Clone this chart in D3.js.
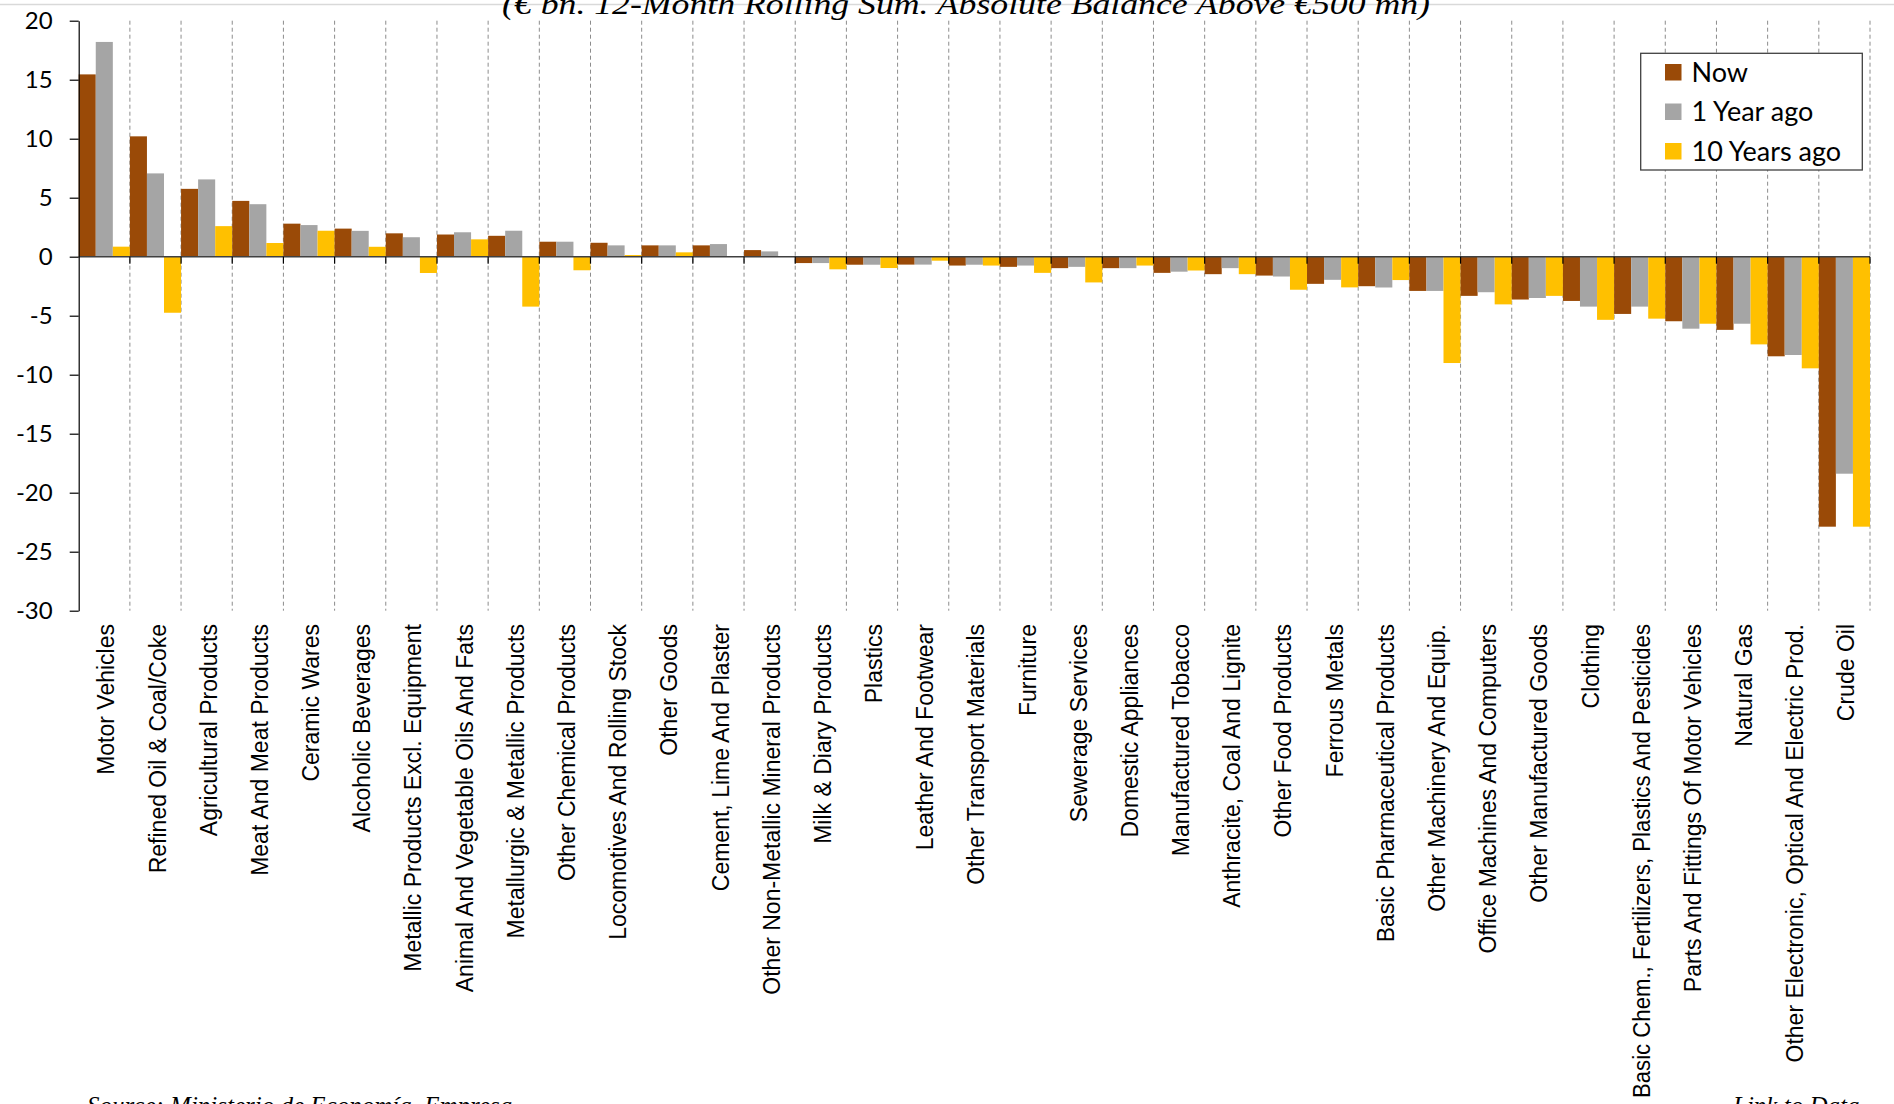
<!DOCTYPE html>
<html><head><meta charset="utf-8">
<script src="https://cdn.jsdelivr.net/npm/d3@7"></script>
<style>body{margin:0;background:#fff;} svg{display:block;}</style>
</head><body><svg id="c" width="1894" height="1104"></svg>
<script>
const categories = ["Motor Vehicles","Refined Oil & Coal/Coke","Agricultural Products","Meat And Meat Products","Ceramic Wares","Alcoholic Beverages","Metallic Products Excl. Equipment","Animal And Vegetable Oils And Fats","Metallurgic & Metallic Products","Other Chemical Products","Locomotives And Rolling Stock","Other Goods","Cement, Lime And Plaster","Other Non-Metallic Mineral Products","Milk & Diary Products","Plastics","Leather And Footwear","Other Transport Materials","Furniture","Sewerage Services","Domestic Appliances","Manufactured Tobacco","Anthracite, Coal And Lignite","Other Food Products","Ferrous Metals","Basic Pharmaceutical Products","Other Machinery And Equip.","Office Machines And Computers","Other Manufactured Goods","Clothing","Basic Chem., Fertilizers, Plastics And Pesticides","Parts And Fittings Of Motor Vehicles","Natural Gas","Other Electronic, Optical And Electric Prod.","Crude Oil"];
const nowValues = [15.45,10.2,5.75,4.73,2.8,2.38,1.98,1.88,1.77,1.27,1.18,0.96,0.96,0.56,-0.54,-0.68,-0.67,-0.75,-0.86,-0.97,-0.97,-1.37,-1.48,-1.6,-2.3,-2.5,-2.9,-3.32,-3.63,-3.75,-4.85,-5.47,-6.2,-8.44,-22.88];
const oneYearAgo = [18.2,7.06,6.55,4.45,2.68,2.19,1.65,2.07,2.2,1.27,0.96,0.96,1.07,0.45,-0.54,-0.68,-0.67,-0.68,-0.75,-0.86,-0.97,-1.27,-0.97,-1.68,-1.96,-2.61,-2.9,-3.01,-3.5,-4.23,-4.23,-6.1,-5.68,-8.33,-18.39];
const tenYearsAgo = [0.85,-4.75,2.59,1.16,2.2,0.84,-1.38,1.47,-4.23,-1.15,0.14,0.37,0,0,-1.07,-0.96,-0.34,-0.75,-1.37,-2.18,-0.75,-1.17,-1.48,-2.8,-2.6,-1.98,-9.01,-4.04,-3.32,-5.35,-5.25,-5.68,-7.43,-9.46,-22.88];
const seriesNames = ["Now","1 Year ago","10 Years ago"];
const seriesColors = ["#9A4A07","#A5A5A5","#FFC000"];
const yTicks = [20,15,10,5,0,-5,-10,-15,-20,-25,-30];
const titleText = "(€ bn. 12-Month Rolling Sum. Absolute Balance Above €500 mn)";
const sourceText = "Source: Ministerio de Economía, Empresa";
const linkText = "Link to Data";

const svg = d3.select("#c");
const L = 78.7, R = 1870, T = 20.7, B = 610.7;
const x = d3.scaleBand().domain(categories).range([L, R]).padding(0);
const xs = d3.scaleBand().domain(seriesNames).range([0, x.bandwidth()]).padding(0);
const y = d3.scaleLinear().domain([-30, 20]).range([B, T]);
const data = categories.map((c, i) => ({c, vals: [nowValues[i], oneYearAgo[i], tenYearsAgo[i]]}));

// top border line
svg.append("line").attr("x1", 0).attr("x2", 1894).attr("y1", 4.5).attr("y2", 4.5)
  .attr("stroke", "#d9d9d9").attr("stroke-width", 1.5);

// dashed gridlines at category boundaries
const bounds = d3.range(1, categories.length + 1).map(i => L + i * x.step());
svg.append("g").selectAll("line").data(bounds).join("line")
  .attr("x1", d => d).attr("x2", d => d).attr("y1", T).attr("y2", B)
  .attr("stroke", "#8c8c8c").attr("stroke-width", 1).attr("stroke-dasharray", "4,3");

// bars
const g = svg.append("g");
data.forEach(d => {
  d.vals.forEach((v, k) => {
    g.append("rect")
      .attr("x", x(d.c) + xs(seriesNames[k]))
      .attr("width", xs.bandwidth())
      .attr("y", y(Math.max(0, v)))
      .attr("height", Math.abs(y(v) - y(0)))
      .attr("fill", seriesColors[k]);
  });
});

// zero axis
svg.append("line").attr("x1", L).attr("x2", R).attr("y1", y(0)).attr("y2", y(0))
  .attr("stroke", "#404040").attr("stroke-width", 1.5);
svg.append("g").selectAll("line").data(bounds).join("line")
  .attr("x1", d => d).attr("x2", d => d).attr("y1", y(0)).attr("y2", y(0) + 7)
  .attr("stroke", "#000").attr("stroke-width", 1.2);

// y axis
const ya = svg.append("g").attr("transform", `translate(${L},0)`)
  .call(d3.axisLeft(y).tickValues(yTicks).tickFormat(d => String(d)).tickSize(9).tickPadding(17).tickSizeOuter(0));
ya.select(".domain").attr("stroke", "#000").attr("stroke-width", 1.2);
ya.selectAll(".tick line").attr("stroke", "#000").attr("stroke-width", 1.2);
ya.selectAll(".tick text").attr("font-family", "Lato, 'Open Sans', sans-serif")
  .attr("font-size", 24).attr("fill", "#000");

// x labels
const maxLabel = 474;
svg.append("g").selectAll("text").data(categories).join("text")
  .attr("transform", d => `translate(${x(d) + x.bandwidth() / 2 + 2},624) rotate(-90)`)
  .attr("text-anchor", "end").attr("dy", "0.35em")
  .attr("font-family", "'Liberation Sans', Arial, sans-serif").attr("font-size", 23)
  .attr("fill", "#000").text(d => d)
  .each(function () {
    if (this.getComputedTextLength() > maxLabel) {
      d3.select(this).attr("textLength", maxLabel).attr("lengthAdjust", "spacingAndGlyphs");
    }
  });

// title
svg.append("text").attr("x", 966).attr("y", 13.5).attr("text-anchor", "middle")
  .attr("font-family", "'Liberation Serif', 'DejaVu Serif', serif").attr("font-style", "italic")
  .attr("font-size", 29).attr("textLength", 928).attr("lengthAdjust", "spacingAndGlyphs")
  .attr("fill", "#000").text(titleText);

// legend
const lg = svg.append("g");
lg.append("rect").attr("x", 1640.7).attr("y", 53.3).attr("width", 221.6).attr("height", 116.7)
  .attr("fill", "#fff").attr("stroke", "#404040").attr("stroke-width", 1.3);
seriesNames.forEach((s, k) => {
  const yy = 64 + k * 39.5;
  lg.append("rect").attr("x", 1665).attr("y", yy).attr("width", 16.5).attr("height", 16.5).attr("fill", seriesColors[k]);
  lg.append("text").attr("x", 1691.5).attr("y", yy + 8.5).attr("dy", "0.35em")
    .attr("font-family", "Lato, 'Open Sans', sans-serif").attr("font-size", 27).attr("fill", "#000").text(s);
});

// footer (cut at bottom, as in the reference)
svg.append("text").attr("x", 87).attr("y", 1114).attr("font-family", "'Liberation Serif', serif")
  .attr("font-style", "italic").attr("font-size", 25).attr("fill", "#000").text(sourceText);
svg.append("text").attr("x", 1733).attr("y", 1114).attr("font-family", "'Liberation Serif', serif")
  .attr("font-style", "italic").attr("font-size", 25).attr("fill", "#000").text(linkText);
</script></body></html>
